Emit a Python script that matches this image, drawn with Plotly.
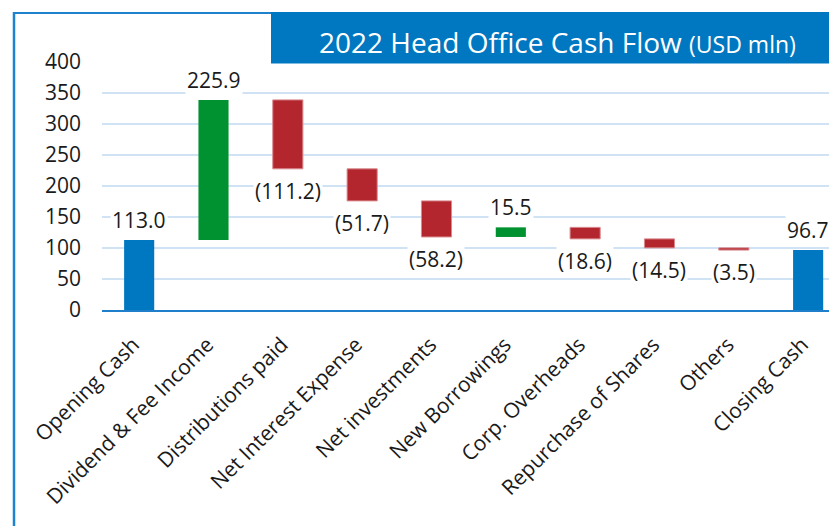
import plotly.graph_objects as go

# ---- data ----
categories = ["Opening Cash", "Dividend & Fee Income", "Distributions paid",
              "Net Interest Expense", "Net investments", "New Borrowings",
              "Corp. Overheads", "Repurchase of Shares", "Others", "Closing Cash"]
values = [113.0, 225.9, -111.2, -51.7, -58.2, 15.5, -18.6, -14.5, -3.5, 96.7]
kinds = ["total", "delta", "delta", "delta", "delta", "delta", "delta", "delta", "delta", "total"]
y_ticks = [0, 50, 100, 150, 200, 250, 300, 350, 400]

# ---- styles ----
C_TOTAL = "#0078C1"
C_UP = "#009130"
C_DOWN = "#B3262E"
C_GRID = "#D0E3F4"
C_BORDER = "#1F82CF"
FONT = "Open Sans"

# ---- compute floating bars ----
bases, lengths, colors, label_y, label_dir, label_txt = [], [], [], [], [], []
running = 0.0
for v, k in zip(values, kinds):
    if k == "total":
        bases.append(0.0); lengths.append(v); colors.append(C_TOTAL)
        running = v
        label_y.append(v); label_dir.append(1); label_txt.append(f"{v:.1f}")
    else:
        start = running
        end = running + v
        bases.append(min(start, end)); lengths.append(abs(v))
        colors.append(C_UP if v >= 0 else C_DOWN)
        running = end
        if v >= 0:
            label_y.append(end); label_dir.append(1); label_txt.append(f"{v:.1f}")
        else:
            label_y.append(end); label_dir.append(-1); label_txt.append(f"({abs(v):.1f})")

# body margin is removed by post_script, so the figure fills the window
W, H = 829, 526
ML, MR, MT = 102, 0, 62
MB = H - 310
PW = W - ML - MR
PH = H - MT - MB
CAT_PX = 74.33
xmax = -0.5 + PW / CAT_PX
TICK_SHIFT = -6 / CAT_PX


def xp(px):
    return (px - ML) / PW


def yp(py):
    return (H - MB - py) / PH


fig = go.Figure()
fig.add_trace(go.Bar(
    x=list(range(len(categories))), y=lengths, base=bases,
    marker=dict(color=colors,
                line=dict(color=["rgba(0,0,0,0)" if c != C_DOWN else "#D98A8E" for c in colors], width=1)),
    width=0.405, hoverinfo="skip",
))

for i, (ly, d, t) in enumerate(zip(label_y, label_dir, label_txt)):
    fig.add_annotation(x=i, y=ly, xref="x", yref="y", text=t, showarrow=False,
                       yanchor="middle", yshift=20 if d > 0 else -22,
                       font=dict(family=FONT, size=21, color="#1a1a1a"),
                       bgcolor="white", borderpad=1)

# title box
fig.add_shape(type="rect", xref="paper", yref="paper",
              x0=xp(271), x1=xp(840), y0=yp(63.5), y1=yp(12),
              fillcolor=C_TOTAL, line=dict(width=0), layer="above")
fig.add_annotation(xref="paper", yref="paper", x=xp(557), y=yp(42),
                   text="2022 Head Office Cash Flow <span style='font-size:23px'>(USD mln)</span>",
                   showarrow=False, xanchor="center", yanchor="middle",
                   font=dict(family=FONT, size=28, color="white"))
# outer border
fig.add_shape(type="line", xref="paper", yref="paper",
              x0=xp(14), x1=xp(14), y0=yp(12), y1=yp(540),
              line=dict(color=C_BORDER, width=2.5), layer="above")
fig.add_shape(type="line", xref="paper", yref="paper",
              x0=xp(13), x1=xp(271), y0=yp(13), y1=yp(13),
              line=dict(color=C_BORDER, width=2), layer="above")

fig.update_layout(
    width=W, height=H, autosize=False,
    margin=dict(l=ML, r=MR, t=MT, b=MB, pad=0),
    paper_bgcolor="white", plot_bgcolor="white",
    showlegend=False, bargap=0,
    font=dict(family=FONT, size=21, color="#1a1a1a"),
)
fig.update_xaxes(
    range=[-0.5, xmax], tickmode="array",
    tickvals=[i + TICK_SHIFT for i in range(len(categories))],
    ticktext=categories, tickangle=-45, showgrid=False, zeroline=False,
    showline=True, linecolor="#1F7FCB", linewidth=2,
    tickfont=dict(family=FONT, size=21, color="#1a1a1a"), ticks="",
    ticklabelstandoff=12,
)
fig.update_yaxes(
    range=[0, 400], tickmode="array", tickvals=y_ticks,
    showgrid=True, gridcolor=C_GRID, gridwidth=2, zeroline=False,
    showline=False, ticks="", ticklabelstandoff=20,
    tickfont=dict(family=FONT, size=21, color="#1a1a1a"),
)

fig.write_html(
    "out.html",
    config={"displayModeBar": False, "staticPlot": True},
    post_script=("document.body.style.margin='0';"
                 "document.body.style.overflow='hidden';"
                 "document.documentElement.style.overflow='hidden';"),
)
